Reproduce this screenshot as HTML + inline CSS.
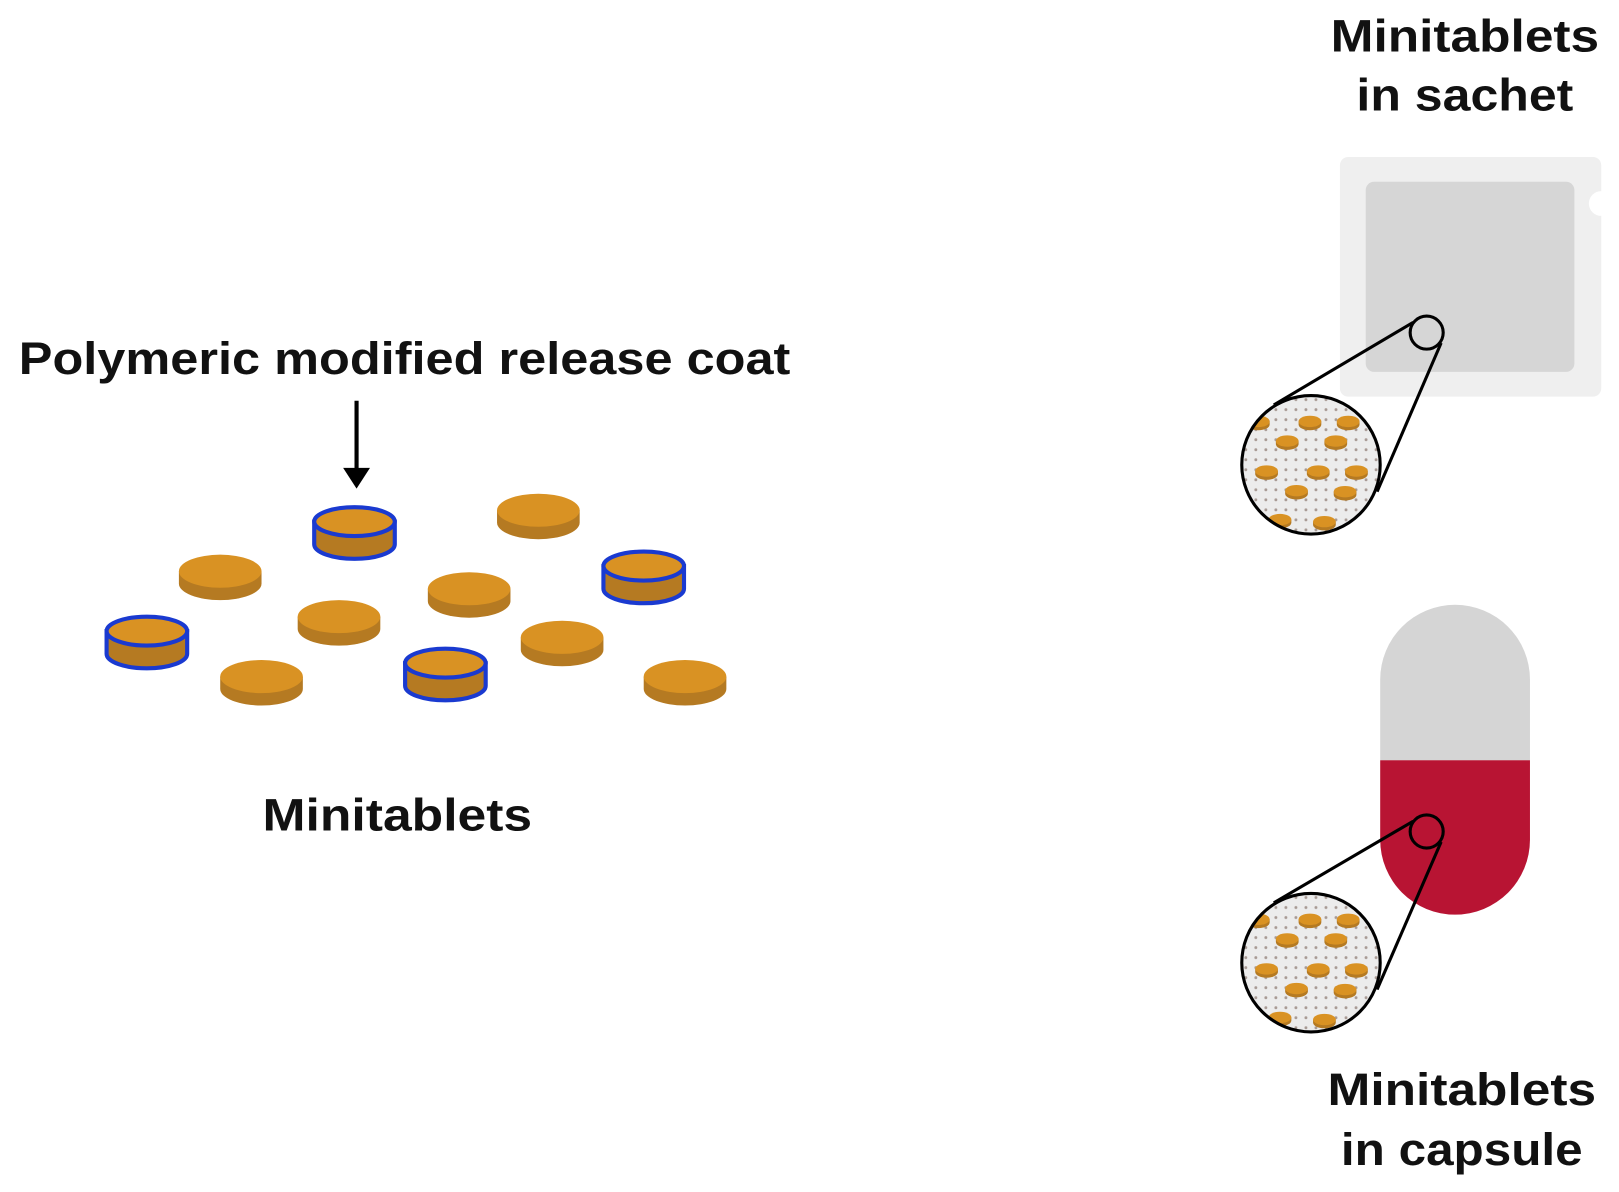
<!DOCTYPE html>
<html><head><meta charset="utf-8"><style>
html,body{margin:0;padding:0;background:#fff}
svg{display:block}
text{font-family:"Liberation Sans",sans-serif;font-weight:bold;fill:#111}
</style></head><body>
<svg width="1619" height="1192" viewBox="0 0 1567 1154" xmlns="http://www.w3.org/2000/svg">
<defs>
<pattern id="dots" x="0" y="0" width="9.7" height="9.7" patternUnits="userSpaceOnUse">
<rect width="9.7" height="9.7" fill="#ececec"/>
<circle cx="4.8" cy="4.8" r="1.4" fill="#a89a94"/>
</pattern>
<g id="st">
<path d="M-11,0 v3 a11,5.5 0 0 0 22,0 v-3 z" fill="#b57a22"/>
<ellipse cx="0" cy="0" rx="11" ry="5.5" fill="#d99223"/>
</g>
<g id="mag">
<circle cx="0" cy="0" r="67" fill="url(#dots)"/>
<g>
<use href="#st" x="-51" y="-42"/><use href="#st" x="-1" y="-42"/><use href="#st" x="36" y="-42"/>
<use href="#st" x="-23" y="-23"/><use href="#st" x="24" y="-23"/>
<use href="#st" x="-43" y="6"/><use href="#st" x="7" y="6"/><use href="#st" x="44" y="6"/>
<use href="#st" x="-14" y="25"/><use href="#st" x="33" y="26"/>
<use href="#st" x="-30" y="53"/><use href="#st" x="13" y="55"/>
</g>
</g>
<clipPath id="cc"><circle cx="0" cy="0" r="66"/></clipPath>
<g id="pt">
<path d="M-40,0 v12 a40,16 0 0 0 80,0 v-12 z" fill="#b57a22"/>
<ellipse cx="0" cy="0" rx="40" ry="16" fill="#d99223"/>
</g>
<g id="bt">
<path d="M-39,0 v22 a39,14 0 0 0 78,0 v-22 z" fill="#b57a22" stroke="#1a3ad0" stroke-width="4"/>
<ellipse cx="0" cy="0" rx="39" ry="14" fill="#d99223" stroke="#1a3ad0" stroke-width="4"/>
</g>
</defs>

<text x="1288" y="50" font-size="44" textLength="260" lengthAdjust="spacingAndGlyphs">Minitablets</text>
<text x="1313" y="107" font-size="44" textLength="210" lengthAdjust="spacingAndGlyphs">in sachet</text>
<text x="18" y="362" font-size="44" textLength="747" lengthAdjust="spacingAndGlyphs">Polymeric modified release coat</text>
<text x="254" y="804" font-size="44" textLength="261" lengthAdjust="spacingAndGlyphs">Minitablets</text>
<text x="1285" y="1070" font-size="44" textLength="260" lengthAdjust="spacingAndGlyphs">Minitablets</text>
<text x="1298" y="1128" font-size="44" textLength="234" lengthAdjust="spacingAndGlyphs">in capsule</text>

<line x1="345" y1="388" x2="345" y2="455" stroke="#000" stroke-width="4"/>
<polygon points="332,453 358,453 345,473" fill="#000"/>

<use href="#pt" x="521" y="494"/>
<use href="#pt" x="213" y="553"/>
<use href="#pt" x="454" y="570"/>
<use href="#pt" x="328" y="597"/>
<use href="#pt" x="544" y="617"/>
<use href="#pt" x="253" y="655"/>
<use href="#pt" x="663" y="655"/>
<use href="#bt" x="343" y="505"/>
<use href="#bt" x="623" y="548"/>
<use href="#bt" x="142" y="611"/>
<use href="#bt" x="431" y="642"/>

<path d="M1305,152 H1542 a8,8 0 0 1 8,8 V185 a12,12 0 0 0 0,24 V376 a8,8 0 0 1 -8,8 H1305 a8,8 0 0 1 -8,-8 V160 a8,8 0 0 1 8,-8 z" fill="#efefef"/>
<rect x="1322" y="176" width="202" height="184" rx="8" fill="#d6d6d6"/>
<g transform="translate(1269,450)"><g clip-path="url(#cc)"><use href="#mag"/></g><circle r="67" fill="none" stroke="#000" stroke-width="3"/></g>
<line x1="1233" y1="392" x2="1368" y2="312" stroke="#000" stroke-width="3"/>
<line x1="1333" y1="476" x2="1395" y2="332" stroke="#000" stroke-width="3"/>
<circle cx="1381" cy="322" r="16" fill="none" stroke="#000" stroke-width="3"/>

<path d="M1336,736 V658 a72.5,72.5 0 0 1 145,0 V736 z" fill="#d5d5d5"/>
<path d="M1336,736 V813 a72.5,72.5 0 0 0 145,0 V736 z" fill="#b81433"/>
<g transform="translate(1269,932)"><g clip-path="url(#cc)"><use href="#mag"/></g><circle r="67" fill="none" stroke="#000" stroke-width="3"/></g>
<line x1="1233" y1="874" x2="1368" y2="795" stroke="#000" stroke-width="3"/>
<line x1="1333" y1="958" x2="1395" y2="815" stroke="#000" stroke-width="3"/>
<circle cx="1381" cy="805" r="16" fill="none" stroke="#000" stroke-width="3"/>
</svg>
</body></html>
